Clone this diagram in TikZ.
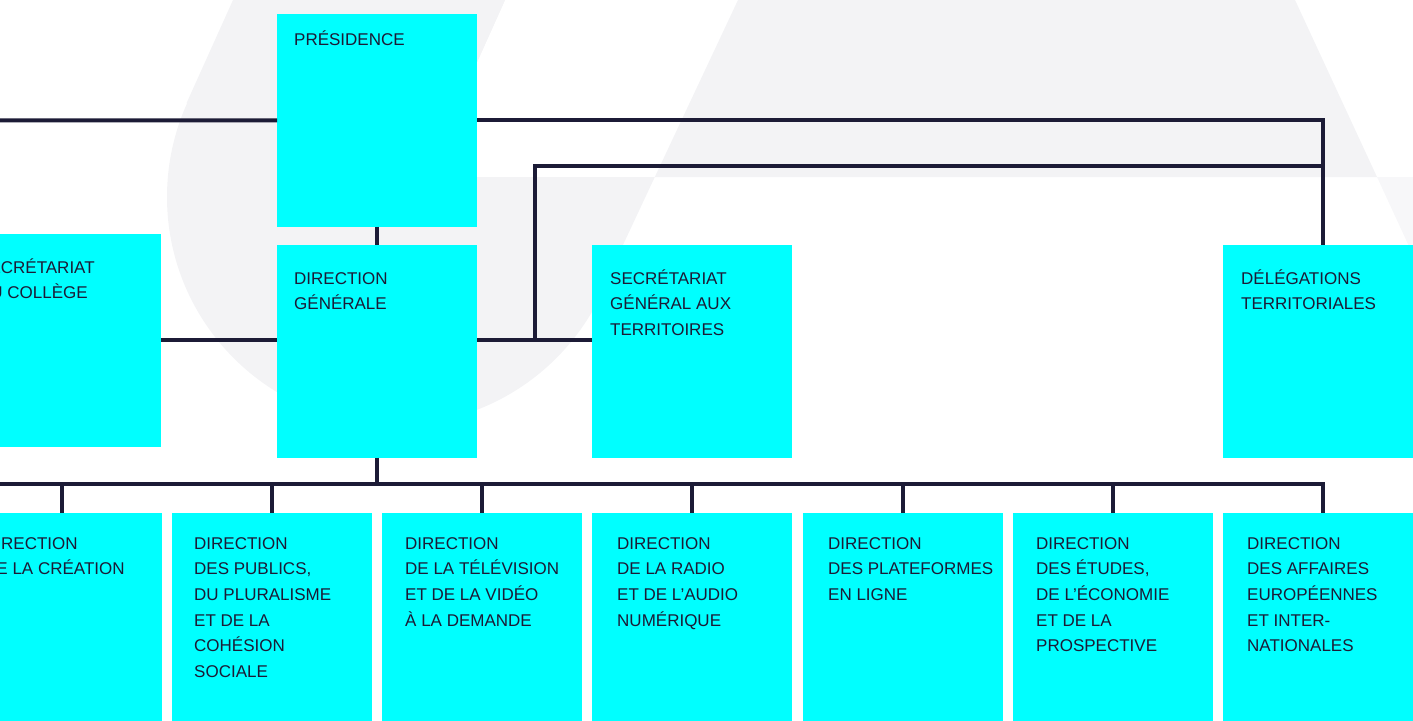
\documentclass[tikz,border=0pt]{standalone}
\usepackage{fontspec}
\setmainfont{Liberation Sans}
\definecolor{cy}{HTML}{00FFFF}
\definecolor{ink}{HTML}{1C1B36}
\definecolor{bg}{HTML}{F3F3F5}
\definecolor{bgl}{HTML}{F7F7F9}
\newcommand\lbl[1]{\vtop{\baselineskip=25.7pt\lineskiplimit=-50pt\halign{##\hfil\cr#1\crcr}}}
\begin{document}
\begin{tikzpicture}[x=1pt,y=-1pt,
  box/.style={fill=cy, draw=none, minimum width=200pt, minimum height=212.5pt, anchor=north west, inner sep=0pt, outer sep=0pt},
  txt/.style={anchor=base west, inner sep=0pt, text=ink, font=\fontsize{17}{25.7}\selectfont},
  conn/.style={draw=ink, line width=4pt}]
\useasboundingbox (0,0) rectangle (1413,720);
\clip (0,0) rectangle (1413,720);
% background letter shapes
\begin{scope}
  \clip (-10,-10) -- (509.5,-10) -- (425.35,177) -- (700,177) -- (700,730) -- (-10,730) -- cycle;
  \fill[bg] (395,197) circle[radius=228];
\end{scope}
\fill[bg] (235.25,-5) -- (507.25,-5) -- (425.35,177) -- (186.5,103.2) -- cycle;
\fill[bg] (654.8,177) -- (600,294) -- (395,197) -- (395,177) -- cycle;
\fill[bg] (740.35,-5) -- (1292.7,-5) -- (1377,177) -- (654.8,177) -- cycle;
\fill[bgl] (1377,177) -- (1420,177) -- (1420,264) -- (1417.2,264) -- cycle;
% boxes
\node[box] (pres) at (277,14) {};
\node[box] (sgc) at (-39,234) {};
\node[box] (dg) at (277,245) {};
\node[box] (sgt) at (592,245) {};
\node[box] (del) at (1223,245) {};
\node[box] (b1) at (-38,513) {};
\node[box] (b2) at (172,513) {};
\node[box] (b3) at (382,513) {};
\node[box] (b4) at (592,513) {};
\node[box] (b5) at (803,513) {};
\node[box] (b6) at (1013,513) {};
\node[box] (b7) at (1223,513) {};
% connectors
\coordinate (tl) at (-5,120.5);
\draw[conn] (tl) -- (pres.west);
\draw[conn] (pres.east) -| (del.north);
\draw[conn] (pres.south) -- (dg.north);
\draw[conn] (sgc.east) -- (sgc.east -| dg.west);
\draw[conn] (sgc.east -| dg.east) -- (sgc.east -| sgt.west);
\coordinate (br) at (535,340.5);
\path (del.north) ++(0,-79) coordinate (k);
\draw[conn] (br) |- (k);
\draw[conn] (dg.south) -- ++(0,27) coordinate (hub);
\coordinate (hl) at (-5,484);
\draw[conn] (hl) -| (b7.north);
\foreach \b in {b1,b2,b3,b4,b5,b6} \draw[conn] (\b.north) -- (\b.north |- hub);
% labels
\node[txt] (pres-t) at (294,45) {\lbl{PRÉSIDENCE}};
\node[txt] (sgc-t) at (-22,273) {\lbl{SECRÉTARIAT\cr DU COLLÈGE}};
\node[txt] (dg-t) at (294,284) {\lbl{DIRECTION\cr GÉNÉRALE}};
\node[txt] (sgt-t) at (610,284) {\lbl{SECRÉTARIAT\cr GÉNÉRAL AUX\cr TERRITOIRES}};
\node[txt] (del-t) at (1241,284) {\lbl{DÉLÉGATIONS\cr TERRITORIALES}};
\node[txt] (b1-t) at (-16,549) {\lbl{DIRECTION\cr DE LA CRÉATION}};
\node[txt] (b2-t) at (194,549) {\lbl{DIRECTION\cr DES PUBLICS,\cr DU PLURALISME\cr ET DE LA\cr COHÉSION\cr SOCIALE}};
\node[txt] (b3-t) at (405,549) {\lbl{DIRECTION\cr DE LA TÉLÉVISION\cr ET DE LA VIDÉO\cr À LA DEMANDE}};
\node[txt] (b4-t) at (617,549) {\lbl{DIRECTION\cr DE LA RADIO\cr ET DE L’AUDIO\cr NUMÉRIQUE}};
\node[txt] (b5-t) at (828,549) {\lbl{DIRECTION\cr DES PLATEFORMES\cr EN LIGNE}};
\node[txt] (b6-t) at (1036,549) {\lbl{DIRECTION\cr DES ÉTUDES,\cr DE L’ÉCONOMIE\cr ET DE LA\cr PROSPECTIVE}};
\node[txt] (b7-t) at (1247,549) {\lbl{DIRECTION\cr DES AFFAIRES\cr EUROPÉENNES\cr ET INTER-\cr NATIONALES}};
\end{tikzpicture}
\end{document}
